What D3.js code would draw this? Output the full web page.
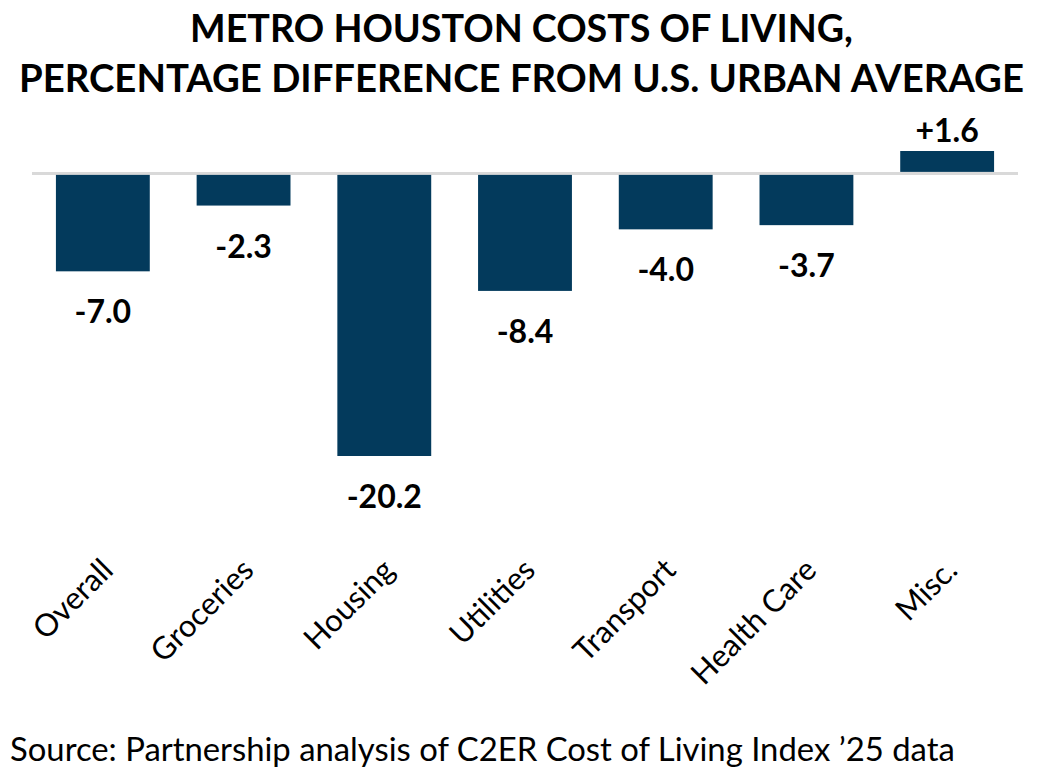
<!DOCTYPE html>
<html>
<head>
<meta charset="utf-8">
<script src="https://cdn.jsdelivr.net/npm/d3@7"></script>
<style>
	body { margin: 0; background: #fff; }
	svg { display: block; font-family: Lato, "Open Sans", sans-serif; }
</style>
</head>
<body>
<div id="chart"></div>
<script>
// data
var categories = ['Overall', 'Groceries', 'Housing', 'Utilities', 'Transport', 'Health Care', 'Misc.'];
var values = [-7.0, -2.3, -20.2, -8.4, -4.0, -3.7, 1.6];
var titleLines = ['METRO HOUSTON COSTS OF LIVING,', 'PERCENTAGE DIFFERENCE FROM U.S. URBAN AVERAGE'];
var sourceText = 'Source: Partnership analysis of C2ER Cost of Living Index \u201925 data';

var width = 1043, height = 772;
var barcolor = '#033a5c';

var svg = d3.select('#chart').append('svg')
	.attr('width', width)
	.attr('height', height);

// fit a text element to a target width by scaling its font size
function fitText(sel, target) {
	var fs = parseFloat(sel.attr('font-size'));
	var w = sel.node().getComputedTextLength();
	sel.attr('font-size', (fs * target / w).toFixed(2));
}

// title
var titleY = [42, 92], titleW = [663, 1005];
titleLines.forEach(function(t, i) {
	var tx = svg.append('text')
		.attr('x', width / 2)
		.attr('y', titleY[i])
		.attr('text-anchor', 'middle')
		.attr('font-size', 36)
		.attr('font-weight', 'bold')
		.attr('fill', '#000')
		.text(t);
	fitText(tx, titleW[i]);
});

// scales
var x = d3.scaleBand()
	.domain(categories)
	.range([32, 1018])
	.paddingInner(0.333)
	.paddingOuter(0.17);

var y = d3.scaleLinear()
	.domain([-20.2, 1.6])
	.range([456, 151]);

var data = categories.map(function(c, i) { return {cat: c, val: values[i]}; });

// zero line
svg.append('line')
	.attr('x1', 32)
	.attr('x2', 1018)
	.attr('y1', y(0))
	.attr('y2', y(0))
	.attr('stroke', '#d9d9d9')
	.attr('stroke-width', 3);

// bars
svg.selectAll('.bar')
	.data(data)
	.enter().append('rect')
	.attr('class', 'bar')
	.attr('x', function(d) { return x(d.cat); })
	.attr('width', x.bandwidth())
	.attr('y', function(d) { return d.val < 0 ? y(0) + 1.5 : y(d.val); })
	.attr('height', function(d) { return d.val < 0 ? y(d.val) - y(0) - 1.5 : y(0) - y(d.val) - 1.5; })
	.attr('fill', barcolor);

// value labels
svg.selectAll('.vlabel')
	.data(data)
	.enter().append('text')
	.attr('class', 'vlabel')
	.attr('x', function(d) { return x(d.cat) + x.bandwidth() / 2; })
	.attr('y', function(d) { return d.val < 0 ? y(d.val) + 52 : y(d.val) - 9; })
	.attr('text-anchor', 'middle')
	.attr('font-size', 32)
	.attr('font-weight', 'bold')
	.attr('fill', '#000')
	.text(function(d) { return (d.val > 0 ? '+' : '') + d.val.toFixed(1); });

// category labels
svg.selectAll('.clabel')
	.data(data)
	.enter().append('text')
	.attr('class', 'clabel')
	.attr('transform', function(d) {
		var cx = x(d.cat) + x.bandwidth() / 2 + 12;
		return 'translate(' + cx + ',' + 572 + ') rotate(-45)';
	})
	.attr('text-anchor', 'end')
	.attr('font-size', 31)
	.attr('fill', '#000')
	.text(function(d) { return d.cat; });

// source
var src = svg.append('text')
	.attr('x', 10)
	.attr('y', 761)
	.attr('font-size', 30)
	.attr('fill', '#000')
	.text(sourceText);
fitText(src, 945);
</script>
</body>
</html>
